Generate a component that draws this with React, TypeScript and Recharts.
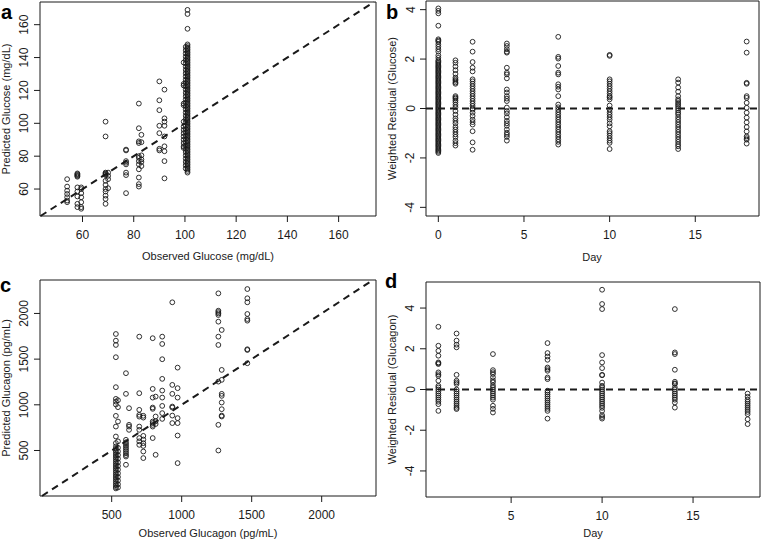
import React from 'react';
import { ScatterChart, Scatter, XAxis, YAxis, ReferenceLine, ReferenceArea } from 'recharts';

// panel a: observed vs predicted glucose (mg/dL)
const gluObs = [54, 58, 59.5, 69, 70, 77, 82, 83, 90, 92, 99.5, 100.3, 101];
const gluPred = [
  [66, 61.5, 59, 57, 55, 53, 52],
  [69.5, 69, 68.5, 68, 67.5, 61, 58.5, 55.5, 51, 49],
  [61, 60, 57.5, 55, 52, 49, 48],
  [101, 92, 70, 69.5, 69, 68.5, 65, 62.5, 60, 58.5, 56, 54, 51],
  [70, 68, 66, 60.5],
  [84, 83.5, 77, 76, 75, 70, 68.5, 57.5],
  [112, 97, 89, 88, 80, 79, 77, 75, 72, 67, 63, 61.5],
  [93, 88.5, 80.5, 78, 76.5, 74],
  [125.5, 114, 108, 98.5, 94, 84.5, 83.5],
  [120.5, 103, 101, 98.5, 92, 86, 83, 77, 66.5],
  [137, 124, 123, 112, 111, 101, 98, 96, 94, 92, 90, 88, 86, 85],
  [146.5, 144.5, 142.5, 140.5, 138.5, 136.5, 134.5, 132.5, 130.5, 128.5, 126.5, 124.5, 122.5, 120.5, 118.5,
    116.5, 114.5, 112.5, 110.5, 108.5, 106.5, 104.5, 102.5, 100.5, 98.5, 96.5, 94.5, 92.5, 90.5, 88.5, 86.5,
    84.5, 82.5, 80.5, 78.5, 76.5, 74.5, 72.5],
  [169, 166.5, 157.5, 148, 147, 146, 145, 144, 143, 142, 141, 140, 139, 138, 137, 136, 135, 134, 133, 132,
    131, 130, 129, 128, 127, 126, 125, 124, 123, 122, 121, 120, 119, 118, 117, 116, 115, 114, 113, 112,
    111, 110, 109, 108, 107, 106, 105, 104, 103, 102, 101, 100, 99, 98, 97, 96, 95, 94, 93, 92,
    91, 90, 89, 88, 87, 86, 85, 84, 83, 82, 81, 80, 79, 78, 77, 76, 75, 74, 73, 72, 71, 70],
];
const gluTicks = [60, 80, 100, 120, 140, 160];

// panel b: weighted residual glucose by day
const gluDays = [0, 1, 2, 4, 7, 10, 14, 18];
const gluResid = [
  [4.05, 3.95, 3.85, 3.35, 2.8, 2.75, 2.7, 2.6, 2.5, 2.4, 2.3, 2.15, 2.05, 1.95, 1.9, 1.85, 1.8, 1.75, 1.7, 1.65,
    1.6, 1.55, 1.5, 1.45, 1.4, 1.35, 1.3, 1.25, 1.2, 1.15, 1.1, 1.05, 1.0, 0.95, 0.9, 0.85, 0.8, 0.75, 0.7, 0.65,
    0.6, 0.55, 0.5, 0.45, 0.4, 0.35, 0.3, 0.25, 0.2, 0.15, 0.1, 0.05, 0, -0.05, -0.1, -0.15, -0.2, -0.25, -0.3,
    -0.35, -0.4, -0.45, -0.5, -0.55, -0.6, -0.65, -0.7, -0.75, -0.8, -0.85, -0.9, -0.95, -1.0, -1.05, -1.1,
    -1.15, -1.2, -1.25, -1.3, -1.35, -1.4, -1.45, -1.5, -1.55, -1.6, -1.65, -1.7, -1.75, -1.8],
  [1.95, 1.85, 1.7, 1.55, 1.4, 1.25, 1.18, 1.12, 1.05, 1.0, 0.5, 0.45, 0.4, 0.33, 0.25, 0.15, 0.05, -0.1, -0.25,
    -0.4, -0.5, -0.6, -0.75, -0.85, -0.95, -1.05, -1.15, -1.3, -1.4, -1.5],
  [2.7, 2.3, 1.88, 1.65, 1.5, 1.18, 1.1, 1.0, 0.9, 0.8, 0.7, 0.6, 0.5, 0.4, 0.3, 0.2, 0.1, 0.0, -0.05, -0.17,
    -0.3, -0.45, -0.55, -0.65, -0.92, -1.37, -1.67],
  [2.63, 2.53, 2.4, 2.3, 2.26, 1.65, 1.45, 1.38, 1.22, 0.77, 0.65, 0.5, 0.4, 0.3, 0.04, -0.1, -0.2, -0.35, -0.5,
    -0.6, -0.7, -0.85, -0.98, -1.06, -1.15, -1.3],
  [2.9, 2.09, 2.02, 1.72, 1.45, 1.38, 0.98, 0.88, 0.77, 0.5, 0.16, 0.05, -0.05, -0.15, -0.25, -0.35, -0.45, -0.55,
    -0.65, -0.75, -0.85, -0.95, -1.05, -1.15, -1.25, -1.35, -1.46],
  [2.17, 2.13, 1.18, 1.1, 1.0, 0.9, 0.8, 0.7, 0.6, 0.5, 0.45, 0.37, 0.12, -0.04, -0.15, -0.25, -0.35, -0.45, -0.6,
    -0.72, -0.92, -1.0, -1.1, -1.2, -1.3, -1.39, -1.64],
  [1.18, 1.05, 0.85, 0.68, 0.5, 0.37, 0.3, 0.22, 0.15, 0.08, 0.0, -0.08, -0.17, -0.24, -0.35, -0.45, -0.55, -0.65,
    -0.75, -0.85, -0.95, -1.05, -1.15, -1.25, -1.35, -1.45, -1.53, -1.64],
  [2.71, 2.26, 1.04, 1.0, 0.5, 0.43, 0.23, 0.03, -0.17, -0.37, -0.56, -0.75, -0.93, -1.13, -1.2, -1.26, -1.42],
];
const dayTicksB = [0, 5, 10, 15];
const residTicks = [-4, -2, 0, 2, 4];

// panel c: observed vs predicted glucagon (pg/mL)
const gcgObs = [530, 545, 602, 624, 697, 726, 793, 814, 861, 933, 971, 1262, 1286, 1469];
const gcgPred = [
  [1775, 1702, 1655, 1521, 1193, 1065, 1035, 1003, 879, 762, 653, 581, 544, 520, 500, 480, 460, 440, 420, 400,
    380, 360, 340, 320, 300, 280, 260, 240, 220, 200, 180, 160, 140, 120, 100, 85],
  [1050, 974, 817, 600, 530, 490, 450, 410, 370, 330, 290, 250, 210, 170, 130, 95],
  [1346, 1120, 617, 590, 570, 550, 530, 510, 490, 470, 450, 434, 344],
  [963, 781, 762, 726],
  [1746, 1127, 945, 890, 871, 762, 726, 636, 600, 562],
  [880, 860, 660, 620, 580, 550, 489, 417],
  [1729, 1174, 1079, 970, 956, 817, 800, 780, 762, 636],
  [1090, 872, 820, 790, 453],
  [1746, 1666, 1499, 1284, 1156, 1079, 988, 909, 846],
  [2122, 1218, 1120, 981, 970, 882, 800],
  [1407, 1182, 1079, 854, 800, 664, 362],
  [2220, 2030, 2015, 2000, 1983, 1910, 1746, 1655, 1254, 781, 500],
  [1819, 1382, 1273, 1120, 1098, 1025, 952, 882, 872],
  [2267, 2166, 2122, 1994, 1939, 1921, 1608, 1600, 1455],
];
const gcgTicks = [500, 1000, 1500, 2000];

// panel d: weighted residual glucagon by day
const gcgDays = [1, 2, 4, 7, 10, 14, 18];
const gcgResid = [
  [3.08, 2.15, 1.9, 1.66, 1.33, 1.29, 1.25, 0.84, 0.75, 0.67, 0.43, 0.18, 0.1, 0.0, -0.1, -0.2, -0.3, -0.4, -0.5,
    -0.6, -0.72, -1.05],
  [2.75, 2.4, 2.2, 2.07, 0.72, 0.43, 0.35, 0.27, 0.0, -0.1, -0.2, -0.3, -0.4, -0.5, -0.6, -0.7, -0.8, -0.9, -0.96],
  [1.74, 0.95, 0.85, 0.76, 0.6, 0.45, 0.35, 0.2, 0.1, 0.0, -0.1, -0.2, -0.3, -0.4, -0.5, -0.8, -0.95, -1.13],
  [2.28, 1.79, 1.62, 1.46, 1.08, 1.0, 0.92, 0.59, 0.51, -0.06, -0.15, -0.25, -0.35, -0.45, -0.55, -0.65, -0.75,
    -0.85, -0.95, -1.05, -1.43],
  [4.9, 4.2, 3.95, 1.69, 1.33, 1.05, 0.72, 0.7, 0.34, 0.18, 0.1, 0.0, -0.1, -0.2, -0.3, -0.4, -0.5, -0.6, -0.7,
    -0.8, -0.9, -1.05, -1.26, -1.35, -1.43],
  [3.95, 1.82, 1.74, 0.97, 0.38, 0.3, 0.27, 0.1, 0.0, -0.1, -0.2, -0.3, -0.4, -0.5, -0.64, -0.89],
  [-0.2, -0.36, -0.5, -0.6, -0.7, -0.8, -0.9, -1.0, -1.1, -1.21, -1.46, -1.7],
];
const dayTicksD = [5, 10, 15];

const FONT = '"Liberation Sans", Arial, sans-serif';
const INK = '#1a1a1a';

type Pt = { x: number; y: number };

const toPoints = (xs: number[], ys: number[][]): Pt[] =>
  xs.flatMap((x, i) => ys[i].map(y => ({ x, y })));

const Ring = (props: any) => (
  <circle cx={props.cx} cy={props.cy} r={2.4} fill="none" stroke={INK} strokeWidth={0.9} />
);

const XTick = (props: any) => (
  <text x={props.x} y={props.y + 15} textAnchor="middle" fontSize={12} fontFamily={FONT} fill={INK}>
    {props.payload.value}
  </text>
);

const YTick = (props: any) => {
  const x = props.x - 3.5;
  return (
    <text x={x} y={props.y} transform={`rotate(-90 ${x} ${props.y})`} textAnchor="middle"
      fontSize={12} fontFamily={FONT} fill={INK}>
      {props.payload.value}
    </text>
  );
};

type PanelProps = {
  left: number;
  top: number;
  width: number;
  height: number;
  margin: { top: number; right: number; left: number; bottom: number };
  yWidth: number;
  xHeight: number;
  xDomain: [number, number];
  yDomain: [number, number];
  xTicks: number[];
  yTicks: number[];
  points: Pt[];
  diagonal?: boolean;
};

function Panel(p: PanelProps) {
  const lo = Math.max(p.xDomain[0], p.yDomain[0]);
  const hi = Math.min(p.xDomain[1], p.yDomain[1]);
  return (
    <div style={{ position: 'absolute', left: p.left, top: p.top }}>
      <ScatterChart width={p.width} height={p.height} margin={p.margin}>
        <XAxis type="number" dataKey="x" domain={p.xDomain} allowDataOverflow ticks={p.xTicks} interval={0}
          height={p.xHeight} axisLine={false} tickLine={{ stroke: INK }} tickSize={6} tick={XTick} />
        <YAxis type="number" dataKey="y" domain={p.yDomain} allowDataOverflow ticks={p.yTicks} interval={0}
          width={p.yWidth} axisLine={false} tickLine={{ stroke: INK }} tickSize={6} tick={YTick} />
        <ReferenceArea x1={p.xDomain[0]} x2={p.xDomain[1]} y1={p.yDomain[0]} y2={p.yDomain[1]}
          fill="none" fillOpacity={0} stroke={INK} strokeWidth={1} ifOverflow="visible" />
        {p.diagonal ? (
          <ReferenceLine segment={[{ x: lo, y: lo }, { x: hi, y: hi }]} stroke={INK} strokeWidth={2}
            strokeDasharray="7 5" ifOverflow="visible" />
        ) : (
          <ReferenceLine y={0} stroke={INK} strokeWidth={2} strokeDasharray="7 5" />
        )}
        <Scatter data={p.points} shape={Ring} isAnimationActive={false} />
      </ScatterChart>
    </div>
  );
}

const titleStyle = { fontFamily: FONT, fontSize: 11, fill: INK };
const letterStyle = { fontFamily: FONT, fontSize: 20, fontWeight: 700, fill: '#000' };

export default function App() {
  return (
    <div style={{ position: 'absolute', left: 0, top: 0, width: 761, height: 543, background: '#fff' }}>
      <Panel left={0} top={0} width={380} height={270} margin={{ top: 2, right: 4, left: 0, bottom: 0 }}
        yWidth={40} xHeight={54} xDomain={[43.4, 174.6]} yDomain={[43.6, 173.8]} xTicks={gluTicks}
        yTicks={gluTicks} points={toPoints(gluObs, gluPred)} diagonal />
      <Panel left={380} top={0} width={381} height={270} margin={{ top: 1, right: 2, left: 0, bottom: 0 }}
        yWidth={46} xHeight={54} xDomain={[-0.72, 18.72]} yDomain={[-4.35, 4.35]} xTicks={dayTicksB}
        yTicks={residTicks} points={toPoints(gluDays, gluResid)} />
      <Panel left={0} top={270} width={380} height={273} margin={{ top: 10, right: 4, left: 0, bottom: 0 }}
        yWidth={40} xHeight={47} xDomain={[-12, 2388]} yDomain={[2, 2366]} xTicks={gcgTicks}
        yTicks={gcgTicks} points={toPoints(gcgObs, gcgPred)} diagonal />
      <Panel left={380} top={270} width={381} height={273} margin={{ top: 12, right: 1, left: 0, bottom: 0 }}
        yWidth={46} xHeight={46} xDomain={[0.32, 18.68]} yDomain={[-5.28, 5.28]} xTicks={dayTicksD}
        yTicks={residTicks} points={toPoints(gcgDays, gcgResid)} />

      <svg width={761} height={543} style={{ position: 'absolute', left: 0, top: 0, pointerEvents: 'none' }}>
        <text x={1} y={18.5} style={letterStyle}>a</text>
        <text x={386} y={18.5} style={letterStyle}>b</text>
        <text x={0} y={292} style={letterStyle}>c</text>
        <text x={385} y={288} style={letterStyle}>d</text>

        <text x={208} y={260} textAnchor="middle" style={titleStyle}>Observed Glucose (mg/dL)</text>
        <text x={592} y={261} textAnchor="middle" style={titleStyle}>Day</text>
        <text x={208} y={537} textAnchor="middle" style={titleStyle}>Observed Glucagon (pg/mL)</text>
        <text x={593} y={537} textAnchor="middle" style={titleStyle}>Day</text>

        <text x={9.5} y={109} textAnchor="middle" transform="rotate(-90 9.5 109)" style={titleStyle}>
          Predicted Glucose (mg/dL)
        </text>
        <text x={395.5} y={108.5} textAnchor="middle" transform="rotate(-90 395.5 108.5)" style={titleStyle}>
          Weighted Residual (Glucose)
        </text>
        <text x={9.5} y={388} textAnchor="middle" transform="rotate(-90 9.5 388)" style={titleStyle}>
          Predicted Glucagon (pg/mL)
        </text>
        <text x={395.5} y={389.5} textAnchor="middle" transform="rotate(-90 395.5 389.5)" style={titleStyle}>
          Weighted Residual (Glucagon)
        </text>
      </svg>
    </div>
  );
}
